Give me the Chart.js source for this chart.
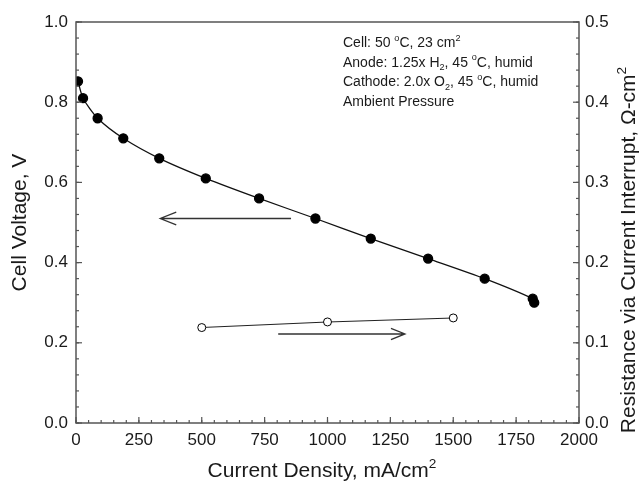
<!DOCTYPE html>
<html>
<head>
<meta charset="utf-8">
<script src="https://cdn.jsdelivr.net/npm/chart.js@4"></script>
<style>
  html, body { margin: 0; padding: 0; background: #fff; }
  #wrap { width: 639px; height: 485px; }
</style>
</head>
<body>
<div id="wrap"><canvas id="polChart"></canvas></div>
<script>
// polarization curve (left axis)
const currentDensity = [8, 28, 86, 188, 331, 516, 728, 952, 1172, 1400, 1625, 1816, 1822];
const cellVoltage = [0.852, 0.81, 0.76, 0.71, 0.66, 0.61, 0.56, 0.51, 0.46, 0.41, 0.36, 0.31, 0.30];

// current interrupt resistance (right axis)
const resistanceCurrent = [500, 1000, 1500];
const resistance = [0.119, 0.126, 0.131];

const xTicks = [0, 250, 500, 750, 1000, 1250, 1500, 1750, 2000];
const voltTicks = [0.0, 0.2, 0.4, 0.6, 0.8, 1.0];
const resTicks = [0.0, 0.1, 0.2, 0.3, 0.4, 0.5];

// arrows pointing at the axis each series belongs to: [fromX, toX, y]
const voltArrow = [855, 335, 0.51];
const resArrow = [804, 1308, 0.222];

const conditions = [
  [['Cell: 50 ', 'n'], ['o', 'sup'], ['C, 23 cm', 'n'], ['2', 'sup']],
  [['Anode: 1.25x H', 'n'], ['2', 'sub'], [', 45 ', 'n'], ['o', 'sup'], ['C, humid', 'n']],
  [['Cathode: 2.0x O', 'n'], ['2', 'sub'], [', 45 ', 'n'], ['o', 'sup'], ['C, humid', 'n']],
  [['Ambient Pressure', 'n']]
];

const FONT = '"Liberation Sans", Arial, Helvetica, sans-serif';
const INK = '#1a1a1a';
const FRAME = '#555';

function richText(ctx, parts, x, y, size, align) {
  const widths = parts.map(p => {
    const s = p[1] === 'n' ? size : size * 0.65;
    ctx.font = s + 'px ' + FONT;
    return ctx.measureText(p[0]).width;
  });
  const total = widths.reduce((a, b) => a + b, 0);
  let cx = align === 'center' ? x - total / 2 : x;
  ctx.textAlign = 'left';
  ctx.textBaseline = 'alphabetic';
  parts.forEach((p, i) => {
    let s = size, dy = 0;
    if (p[1] === 'sup') { s = size * 0.65; dy = -size * 0.45; }
    if (p[1] === 'sub') { s = size * 0.65; dy = size * 0.25; }
    ctx.font = s + 'px ' + FONT;
    ctx.fillText(p[0], cx, y + dy);
    cx += widths[i];
  });
}

function inwardTicks(ctx, scale, from, to, step, len, side, area) {
  const n = Math.round((to - from) / step);
  for (let i = 0; i <= n; i++) {
    const v = from + i * step;
    const p = scale.getPixelForValue(v);
    ctx.beginPath();
    if (side === 'bottom') { ctx.moveTo(p, area.bottom); ctx.lineTo(p, area.bottom - len); }
    if (side === 'left') { ctx.moveTo(area.left, p); ctx.lineTo(area.left + len, p); }
    if (side === 'right') { ctx.moveTo(area.right, p); ctx.lineTo(area.right - len, p); }
    ctx.stroke();
  }
}

function arrow(ctx, x0, x1, y, head) {
  const dir = x1 > x0 ? 1 : -1;
  ctx.beginPath();
  ctx.moveTo(x0, y);
  ctx.lineTo(x1, y);
  ctx.moveTo(x1 - dir * head, y - head * 0.4);
  ctx.lineTo(x1, y);
  ctx.lineTo(x1 - dir * head, y + head * 0.4);
  ctx.stroke();
}

const decorPlugin = {
  id: 'decor',
  afterDraw(chart) {
    const ctx = chart.ctx;
    const a = chart.chartArea;
    const sx = chart.scales.x, sy = chart.scales.y, sr = chart.scales.y1;
    ctx.save();

    // frame
    ctx.strokeStyle = FRAME;
    ctx.lineWidth = 1.5;
    ctx.strokeRect(a.left, a.top, a.right - a.left, a.bottom - a.top);

    // inward ticks
    ctx.lineWidth = 1.2;
    inwardTicks(ctx, sx, 0, 2000, 50, 3, 'bottom', a);
    inwardTicks(ctx, sx, 0, 2000, 250, 6, 'bottom', a);
    inwardTicks(ctx, sy, 0, 1, 0.04, 3, 'left', a);
    inwardTicks(ctx, sy, 0, 1, 0.2, 6, 'left', a);
    inwardTicks(ctx, sr, 0, 0.5, 0.02, 3, 'right', a);
    inwardTicks(ctx, sr, 0, 0.5, 0.1, 6, 'right', a);

    // arrows
    ctx.strokeStyle = '#333';
    ctx.lineWidth = 1.3;
    arrow(ctx, sx.getPixelForValue(voltArrow[0]), sx.getPixelForValue(voltArrow[1]), sy.getPixelForValue(voltArrow[2]), 16);
    arrow(ctx, sx.getPixelForValue(resArrow[0]), sx.getPixelForValue(resArrow[1]), sy.getPixelForValue(resArrow[2]), 14);

    // operating conditions
    ctx.fillStyle = INK;
    conditions.forEach((line, i) => richText(ctx, line, 343, 47 + i * 19.5, 14, 'left'));

    // axis titles
    richText(ctx, [['Current Density, mA/cm', 'n'], ['2', 'sup']], 322, 477, 21, 'center');

    ctx.save();
    ctx.translate(26, (a.top + a.bottom) / 2);
    ctx.rotate(-Math.PI / 2);
    richText(ctx, [['Cell Voltage, V', 'n']], 0, 0, 21, 'center');
    ctx.restore();

    ctx.save();
    ctx.translate(635, 250);
    ctx.rotate(-Math.PI / 2);
    richText(ctx, [['Resistance via Current Interrupt, \u03A9-cm', 'n'], ['2', 'sup']], 0, 0, 21, 'center');
    ctx.restore();

    ctx.restore();
  }
};

const tickFont = { family: FONT, size: 17 };

new Chart(document.getElementById('polChart'), {
  type: 'scatter',
  data: {
    datasets: [{
      label: 'Cell Voltage',
      data: currentDensity.map((x, i) => ({ x: x, y: cellVoltage[i] })),
      yAxisID: 'y',
      showLine: true,
      borderColor: '#111',
      borderWidth: 1.3,
      tension: 0.25,
      pointRadius: 4.5,
      pointBackgroundColor: '#000',
      pointBorderColor: '#000'
    }, {
      label: 'Resistance',
      data: resistanceCurrent.map((x, i) => ({ x: x, y: resistance[i] })),
      yAxisID: 'y1',
      showLine: true,
      borderColor: '#222',
      borderWidth: 1.1,
      pointRadius: 4,
      pointBorderWidth: 1,
      pointBackgroundColor: '#fff',
      pointBorderColor: '#000'
    }]
  },
  options: {
    responsive: true,
    maintainAspectRatio: false,
    animation: false,
    layout: { padding: { top: 22, left: 0, right: 0, bottom: 0 } },
    plugins: {
      legend: { display: false },
      tooltip: { enabled: false }
    },
    scales: {
      x: {
        type: 'linear',
        min: 0, max: 2000,
        afterBuildTicks: s => { s.ticks = xTicks.map(v => ({ value: v })); },
        afterFit: s => { s.height = 62; },
        grid: { display: false, drawTicks: false },
        border: { display: false },
        ticks: { font: tickFont, color: INK, padding: 7, maxRotation: 0, callback: v => String(v) }
      },
      y: {
        position: 'left',
        min: 0, max: 1,
        afterBuildTicks: s => { s.ticks = voltTicks.map(v => ({ value: v })); },
        afterFit: s => { s.width = 76; },
        grid: { display: false, drawTicks: false },
        border: { display: false },
        ticks: { font: tickFont, color: INK, padding: 8, callback: v => v.toFixed(1) }
      },
      y1: {
        position: 'right',
        min: 0, max: 0.5,
        afterBuildTicks: s => { s.ticks = resTicks.map(v => ({ value: v })); },
        afterFit: s => { s.width = 60; },
        grid: { display: false, drawTicks: false },
        border: { display: false },
        ticks: { font: tickFont, color: INK, padding: 6, callback: v => v.toFixed(1) }
      }
    }
  },
  plugins: [decorPlugin]
});
</script>
</body>
</html>
